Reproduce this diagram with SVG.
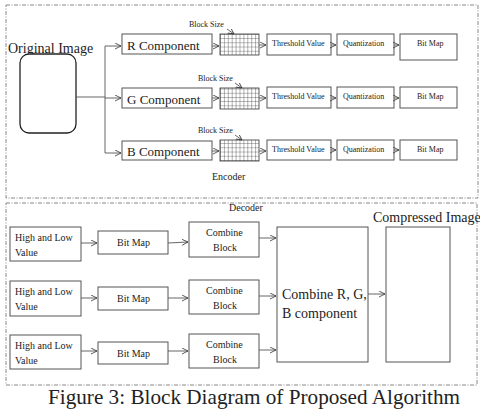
<svg xmlns="http://www.w3.org/2000/svg" width="480" height="414" viewBox="0 0 480 414">
<defs>
<marker id="arr" markerWidth="8" markerHeight="8" refX="6" refY="3" orient="auto" markerUnits="userSpaceOnUse">
<path d="M0,0 L6,3 L0,6" fill="none" stroke="#333" stroke-width="0.8"/>
</marker>
<pattern id="grid" x="220" y="34" width="3.9" height="4.2" patternUnits="userSpaceOnUse">
<path d="M0,0 V4.2 M0,0 H3.9" fill="none" stroke="#333" stroke-width="0.7"/>
</pattern>
</defs>
<style>
.frame{fill:none;stroke:#888;stroke-width:1;stroke-dasharray:4 1.5 1 1.5}
.box{fill:#fff;stroke:#555;stroke-width:1}
.conn{fill:none;stroke:#555;stroke-width:0.9;marker-end:url(#arr)}
.line{fill:none;stroke:#555;stroke-width:0.9}
.t{font-family:"Liberation Serif",serif;fill:#222}
.big{font-size:14px}
.mid{font-size:10px}
.sm{font-size:8px}
.cap{font-family:"Liberation Serif",serif;font-size:22px;fill:#222}
</style>
<rect fill="#fff" width="480" height="414"/>

<g id="encoder-frame">
<rect class="frame" x="6" y="5" width="472" height="193"/>
<text class="t mid" x="212" y="180" font-size="12">Encoder</text>
</g>
<g id="decoder-frame">
<rect class="frame" x="6" y="203" width="471" height="182"/>
<text class="t mid" x="229" y="211" font-size="11">Decoder</text>
</g>

<g id="original-image">
<text class="t big" x="8" y="53">Original Image</text>
<rect x="20" y="54" width="56" height="79" rx="9" fill="#fff" stroke="#222" stroke-width="1.3"/>
</g>

<g id="r-component"><rect class="box" x="122" y="34" width="90" height="20"/><text class="t" font-size="13" x="127" y="50">R Component</text></g>
<g id="g-component"><rect class="box" x="122" y="88" width="90" height="20"/><text class="t" font-size="13" x="127" y="104">G Component</text></g>
<g id="b-component"><rect class="box" x="122" y="141" width="90" height="19"/><text class="t" font-size="13" x="127" y="156">B Component</text></g>

<g id="grid-r"><rect x="220" y="34" width="39" height="21" fill="url(#grid)" stroke="#333" stroke-width="0.8"/><text class="t sm" x="189" y="27" font-size="9">Block Size</text></g>
<g id="grid-g"><rect x="220" y="88" width="39" height="21" fill="url(#grid)" stroke="#333" stroke-width="0.8"/><text class="t sm" x="198" y="81" font-size="9">Block Size</text></g>
<g id="grid-b"><rect x="220" y="140" width="39" height="21" fill="url(#grid)" stroke="#333" stroke-width="0.8"/><text class="t sm" x="198" y="133" font-size="9">Block Size</text></g>

<g id="threshold-r"><rect class="box" x="267" y="34" width="64" height="21"/><text class="t sm" x="272" y="46">Threshold Value</text></g>
<g id="quant-r"><rect class="box" x="337" y="34" width="57" height="21"/><text class="t sm" x="343" y="46">Quantization</text></g>
<g id="bitmap-r"><rect class="box" x="400" y="34" width="57" height="26"/><text class="t sm" x="417" y="46">Bit Map</text></g>

<g id="threshold-g"><rect class="box" x="267" y="87" width="64" height="21"/><text class="t sm" x="272" y="99">Threshold Value</text></g>
<g id="quant-g"><rect class="box" x="337" y="87" width="57" height="21"/><text class="t sm" x="343" y="99">Quantization</text></g>
<g id="bitmap-g"><rect class="box" x="400" y="87" width="57" height="21"/><text class="t sm" x="417" y="99">Bit Map</text></g>

<g id="threshold-b"><rect class="box" x="267" y="140" width="64" height="20"/><text class="t sm" x="272" y="152">Threshold Value</text></g>
<g id="quant-b"><rect class="box" x="337" y="140" width="57" height="20"/><text class="t sm" x="343" y="152">Quantization</text></g>
<g id="bitmap-b"><rect class="box" x="400" y="140" width="57" height="20"/><text class="t sm" x="417" y="152">Bit Map</text></g>

<g id="hl-1"><rect class="box" x="10" y="227" width="71" height="34"/><text class="t mid" x="15" y="241">High and Low</text><text class="t mid" x="15" y="256">Value</text></g>
<g id="hl-2"><rect class="box" x="10" y="281" width="71" height="35"/><text class="t mid" x="15" y="295">High and Low</text><text class="t mid" x="15" y="310">Value</text></g>
<g id="hl-3"><rect class="box" x="10" y="335" width="71" height="34"/><text class="t mid" x="15" y="349">High and Low</text><text class="t mid" x="15" y="364">Value</text></g>

<g id="dbitmap-1"><rect class="box" x="98" y="231" width="70" height="23"/><text class="t mid" x="117" y="246">Bit Map</text></g>
<g id="dbitmap-2"><rect class="box" x="98" y="287" width="70" height="23"/><text class="t mid" x="117" y="302">Bit Map</text></g>
<g id="dbitmap-3"><rect class="box" x="98" y="342" width="70" height="22"/><text class="t mid" x="117" y="357">Bit Map</text></g>

<g id="combine-1"><rect class="box" x="189" y="222" width="70" height="35"/><text class="t mid" x="206" y="236">Combine</text><text class="t mid" x="213" y="251">Block</text></g>
<g id="combine-2"><rect class="box" x="189" y="280" width="70" height="34"/><text class="t mid" x="206" y="294">Combine</text><text class="t mid" x="213" y="309">Block</text></g>
<g id="combine-3"><rect class="box" x="189" y="334" width="70" height="34"/><text class="t mid" x="206" y="348">Combine</text><text class="t mid" x="213" y="363">Block</text></g>

<g id="combine-rgb"><rect class="box" x="277" y="227" width="91" height="135"/><text class="t big" x="282" y="299">Combine R, G,</text><text class="t big" x="282" y="318">B component</text></g>
<g id="compressed"><rect class="box" x="386" y="227" width="64" height="135"/><text class="t big" x="373" y="222">Compressed Image</text></g>

<g id="connectors">
<path class="line" d="M76,97 H105 M105,46 V153"/>
<path class="conn" d="M105,46 H121"/>
<path class="conn" d="M105,98 H121"/>
<path class="conn" d="M105,153 H121"/>
<path class="conn" d="M212,46 H219"/>
<path class="conn" d="M212,98 H219"/>
<path class="conn" d="M212,151 H219"/>
<path class="conn" d="M227,29 L234,34"/>
<path class="conn" d="M235,83 L242,88"/>
<path class="conn" d="M235,135 L242,140"/>
<path class="conn" d="M259,45 H266"/>
<path class="conn" d="M259,98 H266"/>
<path class="conn" d="M259,151 H266"/>
<path class="conn" d="M331,45 H336"/>
<path class="conn" d="M331,98 H336"/>
<path class="conn" d="M331,150 H336"/>
<path class="conn" d="M394,45 H399"/>
<path class="conn" d="M394,98 H399"/>
<path class="conn" d="M394,150 H399"/>
<path class="conn" d="M81,243 H97"/>
<path class="conn" d="M81,298 H97"/>
<path class="conn" d="M81,351 H97"/>
<path class="conn" d="M168,243 L188,242"/>
<path class="conn" d="M168,298 H188"/>
<path class="conn" d="M168,351 H188"/>
<path class="conn" d="M259,238 H276"/>
<path class="conn" d="M259,296 H276"/>
<path class="conn" d="M259,350 H276"/>
<path class="conn" d="M368,294 H385"/>
</g>

<text class="cap" x="48" y="404" textLength="412" lengthAdjust="spacingAndGlyphs">Figure 3: Block Diagram of Proposed Algorithm</text>
</svg>
